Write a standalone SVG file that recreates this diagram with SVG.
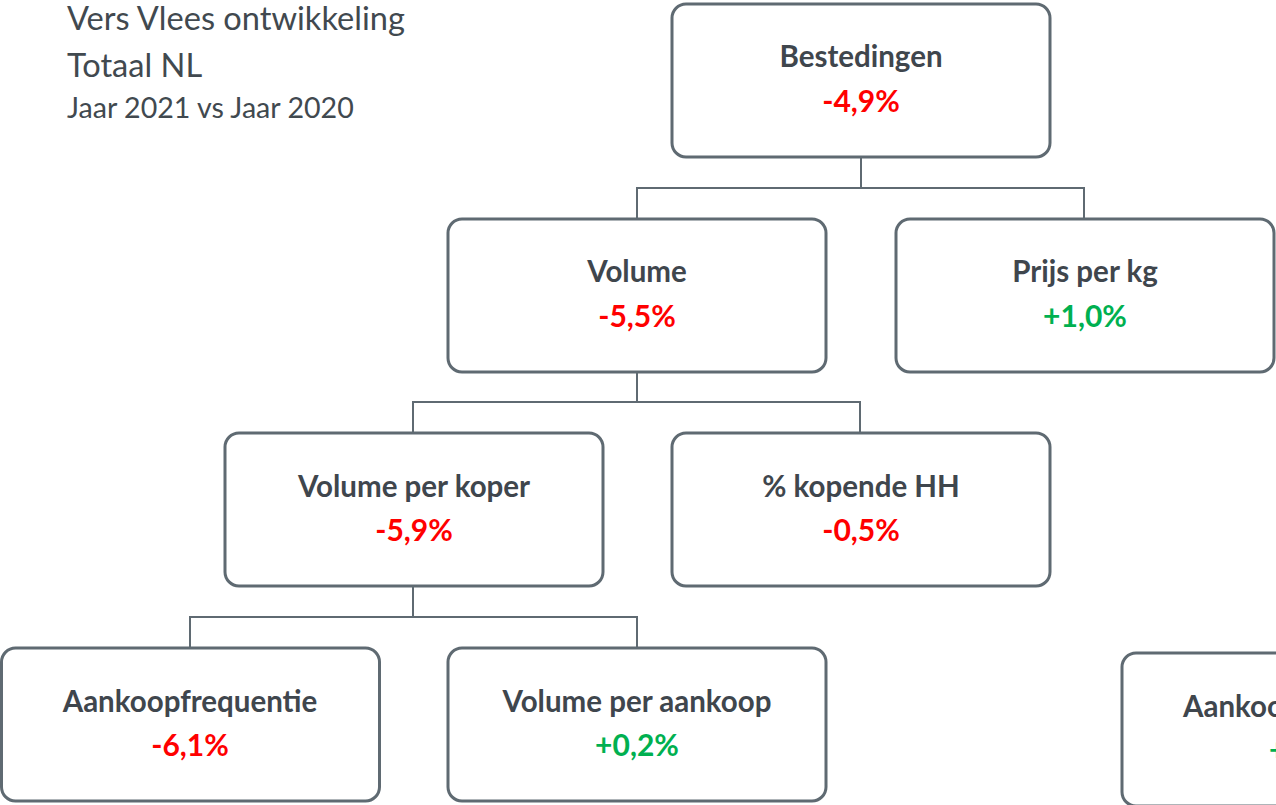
<svg xmlns="http://www.w3.org/2000/svg" width="1276" height="805" viewBox="0 0 1276 805">
<style>
.box{fill:#fff;stroke:#5f6a72;stroke-width:3}
.lbl{font-family:Lato,"Open Sans",sans-serif;font-weight:bold;font-size:29.5px;fill:#3f464d;text-anchor:middle}
.val{font-family:Lato,"Open Sans",sans-serif;font-weight:bold;font-size:30px;text-anchor:middle}
.neg{fill:#ff0000}
.pos{fill:#00b050}
.ttl{font-family:Lato,"Open Sans",sans-serif;fill:#41494f}
.con{fill:none;stroke:#5f6a72;stroke-width:2}
</style>
<rect width="1276" height="805" fill="#fff"/>
<g id="title">
<text class="ttl" x="67" y="30" font-size="32.6">Vers Vlees ontwikkeling</text>
<text class="ttl" x="67" y="77" font-size="32.6">Totaal NL</text>
<text class="ttl" x="67" y="118" font-size="28.6">Jaar 2021 vs Jaar 2020</text>
</g>
<g id="connectors">
<path class="con" d="M861 157V188M637 219V188H1084V219"/>
<path class="con" d="M637 372V402M413 433V402H860V433"/>
<path class="con" d="M413 586V617M190 648V617H637V648"/>
</g>
<g id="bestedingen">
<rect class="box" x="672" y="4" width="378" height="153" rx="14"/>
<text class="lbl" x="861" y="67">Bestedingen</text>
<text class="val neg" x="861" y="112">-4,9%</text>
</g>
<g id="volume">
<rect class="box" x="448" y="219" width="378" height="153" rx="14"/>
<text class="lbl" x="637" y="282">Volume</text>
<text class="val neg" x="637" y="327">-5,5%</text>
</g>
<g id="prijs">
<rect class="box" x="896" y="219" width="378" height="153" rx="14"/>
<text class="lbl" x="1085" y="282">Prijs per kg</text>
<text class="val pos" x="1085" y="327">+1,0%</text>
</g>
<g id="volume-per-koper">
<rect class="box" x="225" y="433" width="378" height="153" rx="14"/>
<text class="lbl" x="414" y="497">Volume per koper</text>
<text class="val neg" x="414" y="541">-5,9%</text>
</g>
<g id="kopende-hh">
<rect class="box" x="672" y="433" width="378" height="153" rx="14"/>
<text class="lbl" x="861" y="497">% kopende HH</text>
<text class="val neg" x="861" y="541">-0,5%</text>
</g>
<g id="aankoopfrequentie">
<rect class="box" x="1.5" y="648" width="378" height="153" rx="14"/>
<text class="lbl" x="190" y="712">Aankoopfrequentie</text>
<text class="val neg" x="190" y="756">-6,1%</text>
</g>
<g id="volume-per-aankoop">
<rect class="box" x="448" y="648" width="378" height="153" rx="14"/>
<text class="lbl" x="637" y="712">Volume per aankoop</text>
<text class="val pos" x="637" y="756">+0,2%</text>
</g>
<g id="cut-node">
<rect class="box" x="1122" y="653" width="378" height="153" rx="14"/>
<text class="lbl" x="1183" y="717" style="text-anchor:start">Aankoopfrequentie</text>
<text class="val pos" x="1269" y="761" style="text-anchor:start">+</text>
</g>
</svg>
